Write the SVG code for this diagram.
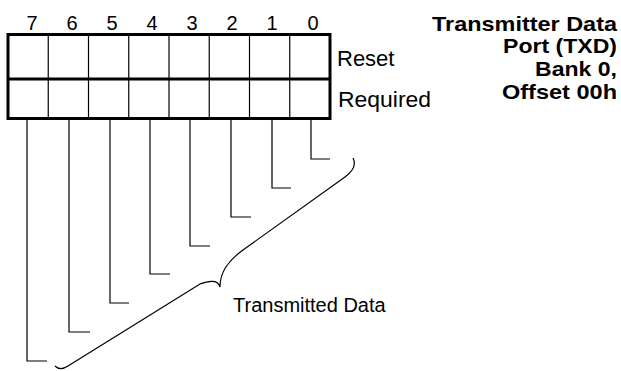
<svg xmlns="http://www.w3.org/2000/svg" width="621" height="371" viewBox="0 0 621 371">
<style>
.lbl{font-family:"Liberation Sans",Arial,sans-serif;fill:#000}
.title{font-family:"Liberation Sans",Arial,sans-serif;font-weight:bold;font-size:21px;fill:#000;text-anchor:end}
.thick{fill:none;stroke:#000;stroke-width:3}
.thin{fill:none;stroke:#000;stroke-width:1.2}
</style>
<rect width="621" height="371" fill="#fff"/>
<g id="register">
<line class="thin" x1="48.25" y1="34.5" x2="48.25" y2="118.5"/>
<line class="thin" x1="88.5" y1="34.5" x2="88.5" y2="118.5"/>
<line class="thin" x1="128.75" y1="34.5" x2="128.75" y2="118.5"/>
<line class="thin" x1="169" y1="34.5" x2="169" y2="118.5"/>
<line class="thin" x1="209.25" y1="34.5" x2="209.25" y2="118.5"/>
<line class="thin" x1="249.5" y1="34.5" x2="249.5" y2="118.5"/>
<line class="thin" x1="289.75" y1="34.5" x2="289.75" y2="118.5"/>
<rect class="thick" x="8" y="34.5" width="322" height="84"/>
<line class="thick" x1="8" y1="79" x2="330" y2="79"/>
</g>
<g id="bits" class="lbl" font-size="20" text-anchor="middle">
<text x="32" y="30">7</text>
<text x="72" y="30">6</text>
<text x="112" y="30">5</text>
<text x="152" y="30">4</text>
<text x="192" y="30">3</text>
<text x="232" y="30">2</text>
<text x="272" y="30">1</text>
<text x="313" y="30">0</text>
</g>
<g id="row-labels" class="lbl" font-size="22">
<text x="337" y="66">Reset</text>
<text x="338" y="107" textLength="93" lengthAdjust="spacingAndGlyphs">Required</text>
</g>
<g id="title">
<text class="title" x="617" y="30.5" textLength="185" lengthAdjust="spacingAndGlyphs">Transmitter Data</text>
<text class="title" x="617" y="53" textLength="114" lengthAdjust="spacingAndGlyphs">Port (TXD)</text>
<text class="title" x="617" y="76" textLength="82" lengthAdjust="spacingAndGlyphs">Bank 0,</text>
<text class="title" x="617" y="98.5" textLength="115" lengthAdjust="spacingAndGlyphs">Offset 00h</text>
</g>
<g id="connectors" class="thin">
<polyline points="311,120 311,159 330,159"/>
<polyline points="272,120 272,188 291,188"/>
<polyline points="231,120 231,217 251,217"/>
<polyline points="190,120 190,246 210,246"/>
<polyline points="150,120 150,274 170,274"/>
<polyline points="110,120 110,303 129,303"/>
<polyline points="69,120 69,332 90,332"/>
<polyline points="27,120 27,361 47,361"/>
<path d="M353,158 C357,166 352,172 345,177 L243,250 C228,261 220,272 220,287 C218,280 210,280 200,284 L68,366 C62,370 58,369 55,366"/>
</g>
<g id="brace-label" class="lbl" font-size="20">
<text x="233" y="311.5">Transmitted Data</text>
</g>
</svg>
